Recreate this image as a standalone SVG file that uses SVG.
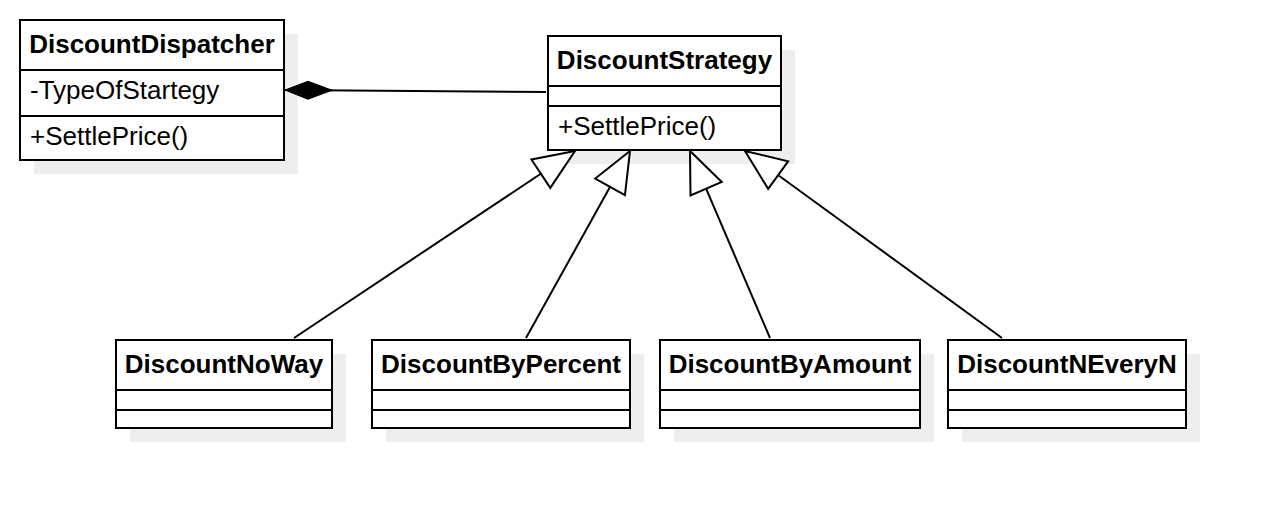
<svg xmlns="http://www.w3.org/2000/svg" width="1264" height="508" viewBox="0 0 1264 508">
<defs>
<style>
.box{fill:#ffffff;stroke:#000000;stroke-width:2}
.sh{fill:#eeeeee;stroke:none}
.div{stroke:#000000;stroke-width:2}
.t{font-family:"Liberation Sans",Arial,sans-serif;font-size:26px;font-weight:bold;fill:#000000;text-anchor:middle}
.m{font-family:"Liberation Sans",Arial,sans-serif;font-size:26px;fill:#000000}
.ln{stroke:#000000;stroke-width:2;fill:none}
</style>
<marker id="gen" markerUnits="userSpaceOnUse" markerWidth="46" markerHeight="40" refX="43" refY="20" orient="auto" overflow="visible">
<path d="M43,20 L2,3 L2,37 Z" fill="#ffffff" stroke="#000000" stroke-width="2"/>
</marker>
<marker id="comp" markerUnits="userSpaceOnUse" markerWidth="52" markerHeight="24" refX="49" refY="12" orient="auto" overflow="visible">
<path d="M49,12 L26,3 L2,12 L26,21 Z" fill="#000000" stroke="#000000" stroke-width="1"/>
</marker>
</defs>
<rect width="1264" height="508" fill="#ffffff"/>
<g id="DiscountDispatcher">
<rect class="sh" x="34" y="34" width="264" height="140"/>
<rect class="box" x="20" y="20" width="264" height="140"/>
<line class="div" x1="20" y1="70" x2="284" y2="70"/>
<line class="div" x1="20" y1="116" x2="284" y2="116"/>
<text class="t" x="152" y="53">DiscountDispatcher</text>
<text class="m" x="30" y="99">-TypeOfStartegy</text>
<text class="m" x="30" y="145">+SettlePrice()</text>
</g>
<g id="DiscountStrategy">
<rect class="sh" x="562" y="50" width="233" height="114"/>
<rect class="box" x="548" y="36" width="233" height="114"/>
<line class="div" x1="548" y1="86" x2="781" y2="86"/>
<line class="div" x1="548" y1="106" x2="781" y2="106"/>
<text class="t" x="664.5" y="69">DiscountStrategy</text>
<text class="m" x="558" y="135">+SettlePrice()</text>
</g>
<g id="DiscountNoWay">
<rect class="sh" x="130" y="354" width="216" height="88"/>
<rect class="box" x="116" y="340" width="216" height="88"/>
<line class="div" x1="116" y1="390" x2="332" y2="390"/>
<line class="div" x1="116" y1="410" x2="332" y2="410"/>
<text class="t" x="224" y="373">DiscountNoWay</text>
</g>
<g id="DiscountByPercent">
<rect class="sh" x="386" y="354" width="258" height="88"/>
<rect class="box" x="372" y="340" width="258" height="88"/>
<line class="div" x1="372" y1="390" x2="630" y2="390"/>
<line class="div" x1="372" y1="410" x2="630" y2="410"/>
<text class="t" x="501" y="373">DiscountByPercent</text>
</g>
<g id="DiscountByAmount">
<rect class="sh" x="674" y="354" width="260" height="88"/>
<rect class="box" x="660" y="340" width="260" height="88"/>
<line class="div" x1="660" y1="390" x2="920" y2="390"/>
<line class="div" x1="660" y1="410" x2="920" y2="410"/>
<text class="t" x="790" y="373">DiscountByAmount</text>
</g>
<g id="DiscountNEveryN">
<rect class="sh" x="962" y="354" width="238" height="88"/>
<rect class="box" x="948" y="340" width="238" height="88"/>
<line class="div" x1="948" y1="390" x2="1186" y2="390"/>
<line class="div" x1="948" y1="410" x2="1186" y2="410"/>
<text class="t" x="1067" y="373">DiscountNEveryN</text>
</g>
<g id="connectors">
<line class="ln" x1="546" y1="92" x2="285" y2="90" marker-end="url(#comp)"/>
<line class="ln" x1="294" y1="338" x2="575" y2="151" marker-end="url(#gen)"/>
<line class="ln" x1="526" y1="338" x2="630" y2="151" marker-end="url(#gen)"/>
<line class="ln" x1="770" y1="338" x2="690" y2="151" marker-end="url(#gen)"/>
<line class="ln" x1="1002" y1="338" x2="745" y2="151" marker-end="url(#gen)"/>
</g>
</svg>
